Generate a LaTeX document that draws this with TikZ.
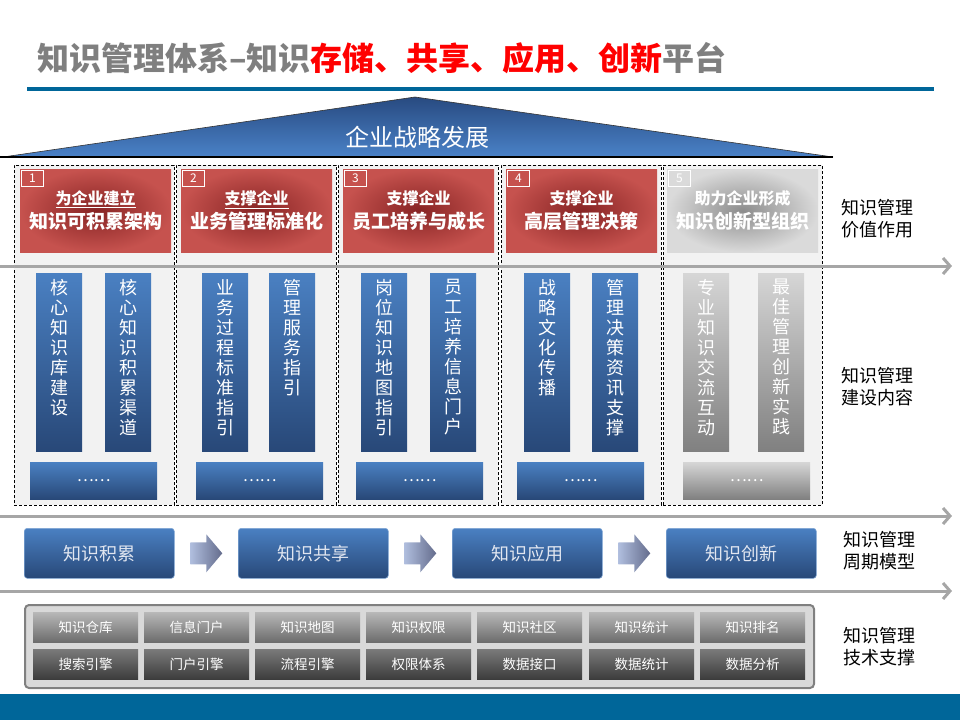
\documentclass[tikz,border=0pt]{standalone}
\usepackage{fontspec}
\setmainfont{Noto Sans CJK SC}
\usetikzlibrary{arrows.meta,calc}
\definecolor{bandblue}{RGB}{0,102,153}
\definecolor{titlegray}{RGB}{127,127,127}
\definecolor{titlered}{RGB}{255,0,0}
\definecolor{bartop}{RGB}{74,128,194}
\definecolor{barbot}{RGB}{40,72,120}
\definecolor{rooftop}{RGB}{40,74,128}
\definecolor{roofbot}{RGB}{74,130,200}
\definecolor{redin}{RGB}{135,36,36}
\definecolor{redout}{RGB}{198,82,78}
\definecolor{grayin}{RGB}{140,140,140}
\definecolor{grayout}{RGB}{218,218,218}
\definecolor{gtop}{RGB}{214,214,214}
\definecolor{gbot}{RGB}{128,128,128}
\definecolor{colbg}{RGB}{242,242,242}
\definecolor{arrowgray}{RGB}{166,166,166}
\definecolor{chevl}{RGB}{176,190,222}
\definecolor{chevr}{RGB}{100,108,140}
\definecolor{panelbg}{RGB}{217,217,217}
\definecolor{panelbord}{RGB}{128,128,128}
\definecolor{b1top}{RGB}{184,184,184}
\definecolor{b1bot}{RGB}{108,108,108}
\definecolor{b2top}{RGB}{122,122,122}
\definecolor{b2bot}{RGB}{60,60,60}
\definecolor{cyctext}{RGB}{225,230,240}
\newcommand{\hlu}[1]{{\fontsize{16}{20}\selectfont\underline{#1}}}
\newcommand{\hlp}[1]{{\fontsize{16}{20}\selectfont #1}}
\newcommand{\kmbar}[4]{%
  \node[#3] (#1) at (#2,273) {};
  \node[vtext] (#1t) at ([yshift=-6pt]#1.north) {#4};}
\newcommand{\kmchev}[1]{%
  \shade[left color=chevl, right color=chevr]
    ($(#1)+(-16,-11)$) -- ($(#1)+(0,-11)$) -- ($(#1)+(0,-19)$) -- ($(#1)+(16,0)$)
    -- ($(#1)+(0,19)$) -- ($(#1)+(0,11)$) -- ($(#1)+(-16,11)$) -- cycle;}
\begin{document}
\begin{tikzpicture}[x=1pt,y=-1pt,
  colbox/.style={draw=black, dash pattern=on 3pt off 2pt, fill=colbg, line width=0.8pt,
    minimum width=160, minimum height=340, anchor=north west, inner sep=0},
  redhead/.style={inner color=redin, outer color=redout, minimum width=151, minimum height=83,
    anchor=north west, inner sep=0, text=white, align=center, font=\fontsize{19}{24}\selectfont\bfseries},
  grayhead/.style={redhead, inner color=grayin, outer color=grayout},
  tag/.style={draw=white, line width=0.8pt, minimum width=22, minimum height=16, inner sep=0,
    anchor=north west, text=white, font=\fontsize{12}{12}\selectfont},
  vbar/.style={top color=bartop, bottom color=barbot, minimum width=46, minimum height=178,
    anchor=north west, inner sep=0},
  gbar/.style={vbar, top color=gtop, bottom color=gbot},
  vtext/.style={text=white, align=center, anchor=north, inner sep=0, font=\fontsize{18}{20}\selectfont},
  dotbox/.style={top color=bartop, bottom color=barbot, minimum width=127, minimum height=37,
    anchor=north west, inner sep=0, text=white, font=\fontsize{16}{16}\selectfont},
  gdotbox/.style={dotbox, top color=gtop, bottom color=gbot},
  cyc/.style={rounded corners=3pt, top color=bartop, bottom color=barbot, draw=bartop!70!white,
    line width=0.6pt, minimum width=150, minimum height=50, anchor=north west, inner sep=0,
    text=cyctext, font=\fontsize{18}{18}\selectfont},
  garrow/.style={draw=arrowgray, line width=3pt, -{Straight Barb[length=7pt,width=16pt]}},
  sidelab/.style={anchor=west, align=left, inner sep=0, font=\fontsize{18}{22}\selectfont},
  btn1/.style={top color=b1top, bottom color=b1bot, minimum width=105, minimum height=30,
    anchor=north west, inner sep=0, text=white, font=\fontsize{13.5}{14}\selectfont},
  btn2/.style={btn1, top color=b2top, bottom color=b2bot}
]
\useasboundingbox (0,0) rectangle (960,720);
% title
\node[anchor=west, inner sep=0, text=titlegray, font=\fontsize{32}{32}\selectfont\bfseries] (title)
  at (37,58) {知识管理体系–知识\textcolor{titlered}{存储、共享、应用、创新}平台};
\draw[bandblue, line width=4pt] (27,89) -- (934,89);
% roof
\shade[top color=rooftop, bottom color=roofbot] (3,157) -- (415,97) -- (833,157) -- cycle;
\draw[black!80, line width=0.6pt] (3,157) -- (415,97) -- (833,157);
\draw[black, line width=1.2pt] (0,157) -- (833,157);
\node[text=white, font=\fontsize{24}{24}\selectfont] (roof) at (417,137) {企业战略发展};
% columns
\node[colbox] (c1) at (14,165) {};
\node[colbox] (c2) at (176,165) {};
\node[colbox] (c3) at (338,165) {};
\node[colbox] (c4) at (501,165) {};
\node[colbox, minimum width=159] (c5) at (663,165) {};
% headers
\node[redhead] (h1) at (20,169) {\hlu{为企业建立}\\知识可积累架构};
\node[redhead] (h2) at (181,169) {\hlu{支撑企业}\\业务管理标准化};
\node[redhead] (h3) at (343,169) {\hlp{支撑企业}\\员工培养与成长};
\node[redhead] (h4) at (506,169) {\hlp{支撑企业}\\高层管理决策};
\node[grayhead] (h5) at (667,169) {\hlp{助力企业形成}\\知识创新型组织};
\node[tag] (n1) at ([xshift=1pt,yshift=-1pt]h1.north west) {1};
\node[tag] (n2) at ([xshift=1pt,yshift=-1pt]h2.north west) {2};
\node[tag] (n3) at ([xshift=1pt,yshift=-1pt]h3.north west) {3};
\node[tag] (n4) at ([xshift=1pt,yshift=-1pt]h4.north west) {4};
\node[tag] (n5) at ([xshift=1pt,yshift=-1pt]h5.north west) {5};
% bars
\kmbar{b11}{36}{vbar}{核\\心\\知\\识\\库\\建\\设}
\kmbar{b12}{105}{vbar}{核\\心\\知\\识\\积\\累\\渠\\道}
\kmbar{b21}{202}{vbar}{业\\务\\过\\程\\标\\准\\指\\引}
\kmbar{b22}{269}{vbar}{管\\理\\服\\务\\指\\引}
\kmbar{b31}{361}{vbar}{岗\\位\\知\\识\\地\\图\\指\\引}
\kmbar{b32}{430}{vbar}{员\\工\\培\\养\\信\\息\\门\\户}
\kmbar{b41}{524}{vbar}{战\\略\\文\\化\\传\\播}
\kmbar{b42}{592}{vbar}{管\\理\\决\\策\\资\\讯\\支\\撑}
\kmbar{b51}{683}{gbar}{专\\业\\知\\识\\交\\流\\互\\动}
\kmbar{b52}{758}{gbar}{最\\佳\\管\\理\\创\\新\\实\\践}
% dots boxes
\node[dotbox] (d1) at (30,462) {……};
\node[dotbox] (d2) at (196,462) {……};
\node[dotbox] (d3) at (356,462) {……};
\node[dotbox] (d4) at (517,462) {……};
\node[gdotbox] (d5) at (683,462) {……};
% gray arrows
\coordinate (a1s) at (0,266); \coordinate (a1e) at (952,266);
\coordinate (a2s) at (0,516); \coordinate (a2e) at (952,516);
\coordinate (a3s) at (0,591); \coordinate (a3e) at (952,591);
\draw[garrow] (a1s) -- (a1e);
\draw[garrow] (a2s) -- (a2e);
\draw[garrow] (a3s) -- (a3e);
% cycle
\node[cyc] (y1) at (24,528) {知识积累};
\node[cyc] (y2) at (238,528) {知识共享};
\node[cyc] (y3) at (452,528) {知识应用};
\node[cyc] (y4) at (666,528) {知识创新};
\path (y1.east) -- (y2.west) coordinate[midway] (m12);
\path (y2.east) -- (y3.west) coordinate[midway] (m23);
\path (y3.east) -- (y4.west) coordinate[midway] (m34);
\kmchev{m12}
\kmchev{m23}
\kmchev{m34}
% side labels
\node[sidelab] (s1) at (841,219) {知识管理\\价值作用};
\node[sidelab] (s2) at (841,387) {知识管理\\建设内容};
\node[sidelab] (s3) at (843,551) {知识管理\\周期模型};
\node[sidelab] (s4) at (843,647) {知识管理\\技术支撑};
% tech panel
\node[draw=panelbord, line width=2pt, fill=panelbg, rounded corners=4pt, minimum width=789,
  minimum height=83, anchor=north west, inner sep=0] (panel) at (24,604) {};
\node[btn1] (t11) at (33,612) {知识仓库};
\node[btn1] (t12) at (144,612) {信息门户};
\node[btn1] (t13) at (255,612) {知识地图};
\node[btn1] (t14) at (366,612) {知识权限};
\node[btn1] (t15) at (477,612) {知识社区};
\node[btn1] (t16) at (589,612) {知识统计};
\node[btn1] (t17) at (700,612) {知识排名};
\node[btn2] (t21) at (33,649) {搜索引擎};
\node[btn2] (t22) at (144,649) {门户引擎};
\node[btn2] (t23) at (255,649) {流程引擎};
\node[btn2] (t24) at (366,649) {权限体系};
\node[btn2] (t25) at (477,649) {数据接口};
\node[btn2] (t26) at (589,649) {数据统计};
\node[btn2] (t27) at (700,649) {数据分析};
% bottom band
\fill[bandblue] (0,694) rectangle (960,720);
\end{tikzpicture}
\end{document}
